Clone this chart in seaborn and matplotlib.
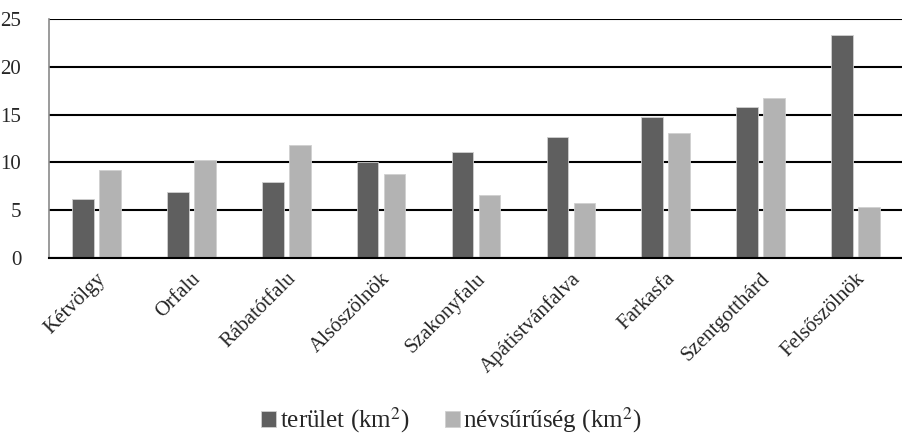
import pandas as pd
import matplotlib.pyplot as plt
import seaborn as sns

# település adatok
telepulesek = ["Kétvölgy", "Orfalu", "Rábatótfalu", "Alsószölnök", "Szakonyfalu",
               "Apátistvánfalva", "Farkasfa", "Szentgotthárd", "Felsőszölnök"]
terulet = [6.2, 6.9, 8.0, 10.0, 11.1, 12.7, 14.7, 15.8, 23.3]
nevsuruseg = [9.2, 10.3, 11.8, 8.8, 6.6, 5.8, 13.1, 16.7, 5.3]
sorozatok = ["terület (km$^2$)", "névsűrűség (km$^2$)"]
szinek = ["#5f5f5f", "#b3b3b3"]

df = pd.DataFrame({"telepules": telepulesek, sorozatok[0]: terulet, sorozatok[1]: nevsuruseg})
df = df.melt(id_vars="telepules", var_name="sorozat", value_name="ertek")

sns.set_style("white")
plt.rcParams["font.family"] = ["Liberation Serif", "DejaVu Serif"]
plt.rcParams["mathtext.fontset"] = "stix"

fig = plt.figure(figsize=(9.03, 4.34), dpi=100)
ax = fig.add_axes([49 / 903, 1 - 258 / 434, 1 - 49 / 903, 239 / 434])

sns.barplot(data=df, x="telepules", y="ertek", hue="sorozat", palette=szinek,
            width=0.57, gap=0.2, ax=ax, legend=True, edgecolor="#d0d0d0", linewidth=0.6)

ax.set_ylim(0, 25)
ax.set_yticks([0, 5, 10, 15, 20, 25])
ax.set_xlim(-0.5, len(telepulesek) - 0.5)
ax.yaxis.grid(True, color="black", linewidth=1.5)
ax.set_axisbelow(True)
for s in ["top", "right"]:
    ax.spines[s].set_visible(False)
ax.spines["left"].set_color("#8a8a8a")
ax.spines["left"].set_linewidth(1.2)
ax.spines["bottom"].set_color("black")
ax.spines["bottom"].set_linewidth(1.5)

ax.set_xlabel("")
ax.set_ylabel("")
ax.tick_params(axis="y", labelsize=15, length=0, pad=20)
ax.tick_params(axis="x", labelsize=15, length=0, pad=8)
plt.setp(ax.get_xticklabels(), rotation=45, ha="right", rotation_mode="anchor")

h, l = ax.get_legend_handles_labels()
ax.get_legend().remove()
fig.legend(h, l, loc="lower center", bbox_to_anchor=(0.5, -0.055), ncol=2, frameon=False,
           fontsize=18, handlelength=0.6, handleheight=0.6, handletextpad=0.15, columnspacing=1.4)

fig.savefig("out.png", dpi=100)
